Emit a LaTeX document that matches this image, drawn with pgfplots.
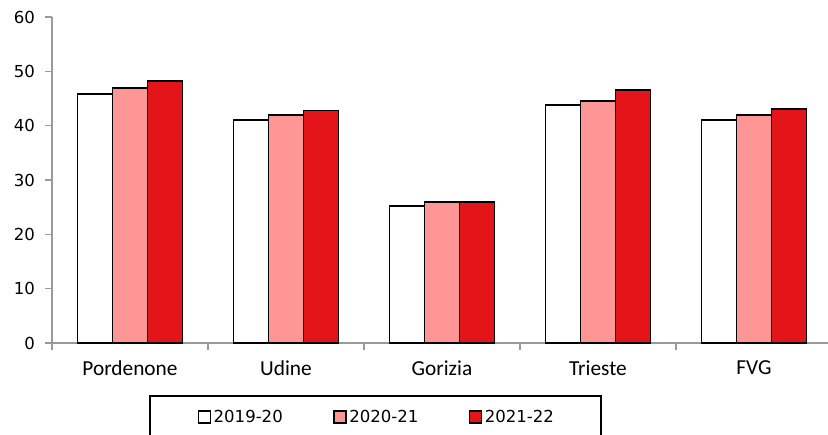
\documentclass[border=0pt]{standalone}
\usepackage{pgfplots}
\pgfplotsset{compat=1.18}
\usepackage{fontspec}
\setmainfont{DejaVu Sans}
\newfontfamily\carl{Carlito}
\definecolor{axgray}{HTML}{9A9A9A}
\definecolor{pinkbar}{HTML}{FF9696}
\definecolor{redbar}{HTML}{E41518}
\begin{document}
\begin{tikzpicture}
\begin{axis}[
  name=ax,
  at={(0,0)}, anchor=south west,
  scale only axis,
  width=585pt, height=244.5pt,
  xmin=-0.5, xmax=4.5,
  ymin=0, ymax=60,
  ytick={0,10,...,60},
  axis lines*=left,
  axis line style={draw=axgray, line width=1.5pt},
  tick align=outside,
  major tick length=5.25pt,
  tick style={draw=axgray, line width=1.2pt},
  xtick={-0.5,0.5,1.5,2.5,3.5,4.5},
  xticklabels={},
  extra x ticks={0,1,2,3,4},
  extra x tick labels={Pordenone,Udine,Gorizia,Trieste,FVG},
  extra x tick style={major tick length=0pt, tick label style={font=\carl\fontsize{16}{18}\selectfont, yshift=-10pt}},
  yticklabel style={font=\fontsize{12.4}{14}\selectfont, xshift=-4pt},
  /pgf/number format/assume math mode=true,
  ybar=0pt,
  bar width=26.25pt,
  legend columns=3,
  legend style={draw=none, fill=none, at={(0.417,-0.227)}, anchor=center,
    font=\fontsize{12.4}{14}\selectfont,
    /tikz/every even column/.append style={column sep=36pt},
    /tikz/every odd column/.append style={column sep=0pt}},
  legend image code/.code={\draw[#1, draw=black, line width=0.9pt] (0pt,-4.5pt) rectangle (9pt,4.5pt);},
]
\addplot[fill=white, draw=black, line width=1.4pt] coordinates {(0,45.8) (1,41.0) (2,25.2) (3,43.8) (4,41.0)};
\addplot[fill=pinkbar, draw=black, line width=1.4pt] coordinates {(0,46.9) (1,42.0) (2,25.9) (3,44.5) (4,42.0)};
\addplot[fill=redbar, draw=black, line width=1.4pt] coordinates {(0,48.3) (1,42.8) (2,25.9) (3,46.6) (4,43.1)};
\legend{2019-20,2020-21,2021-22}
\end{axis}
\draw[black, line width=1.3pt] (73.5pt,-80pt) -- (73.5pt,-39.75pt) -- (411.75pt,-39.75pt) -- (411.75pt,-80pt);
\pgfresetboundingbox
\useasboundingbox (-39pt,-69pt) rectangle (582pt,257.25pt);
\end{tikzpicture}
\end{document}
